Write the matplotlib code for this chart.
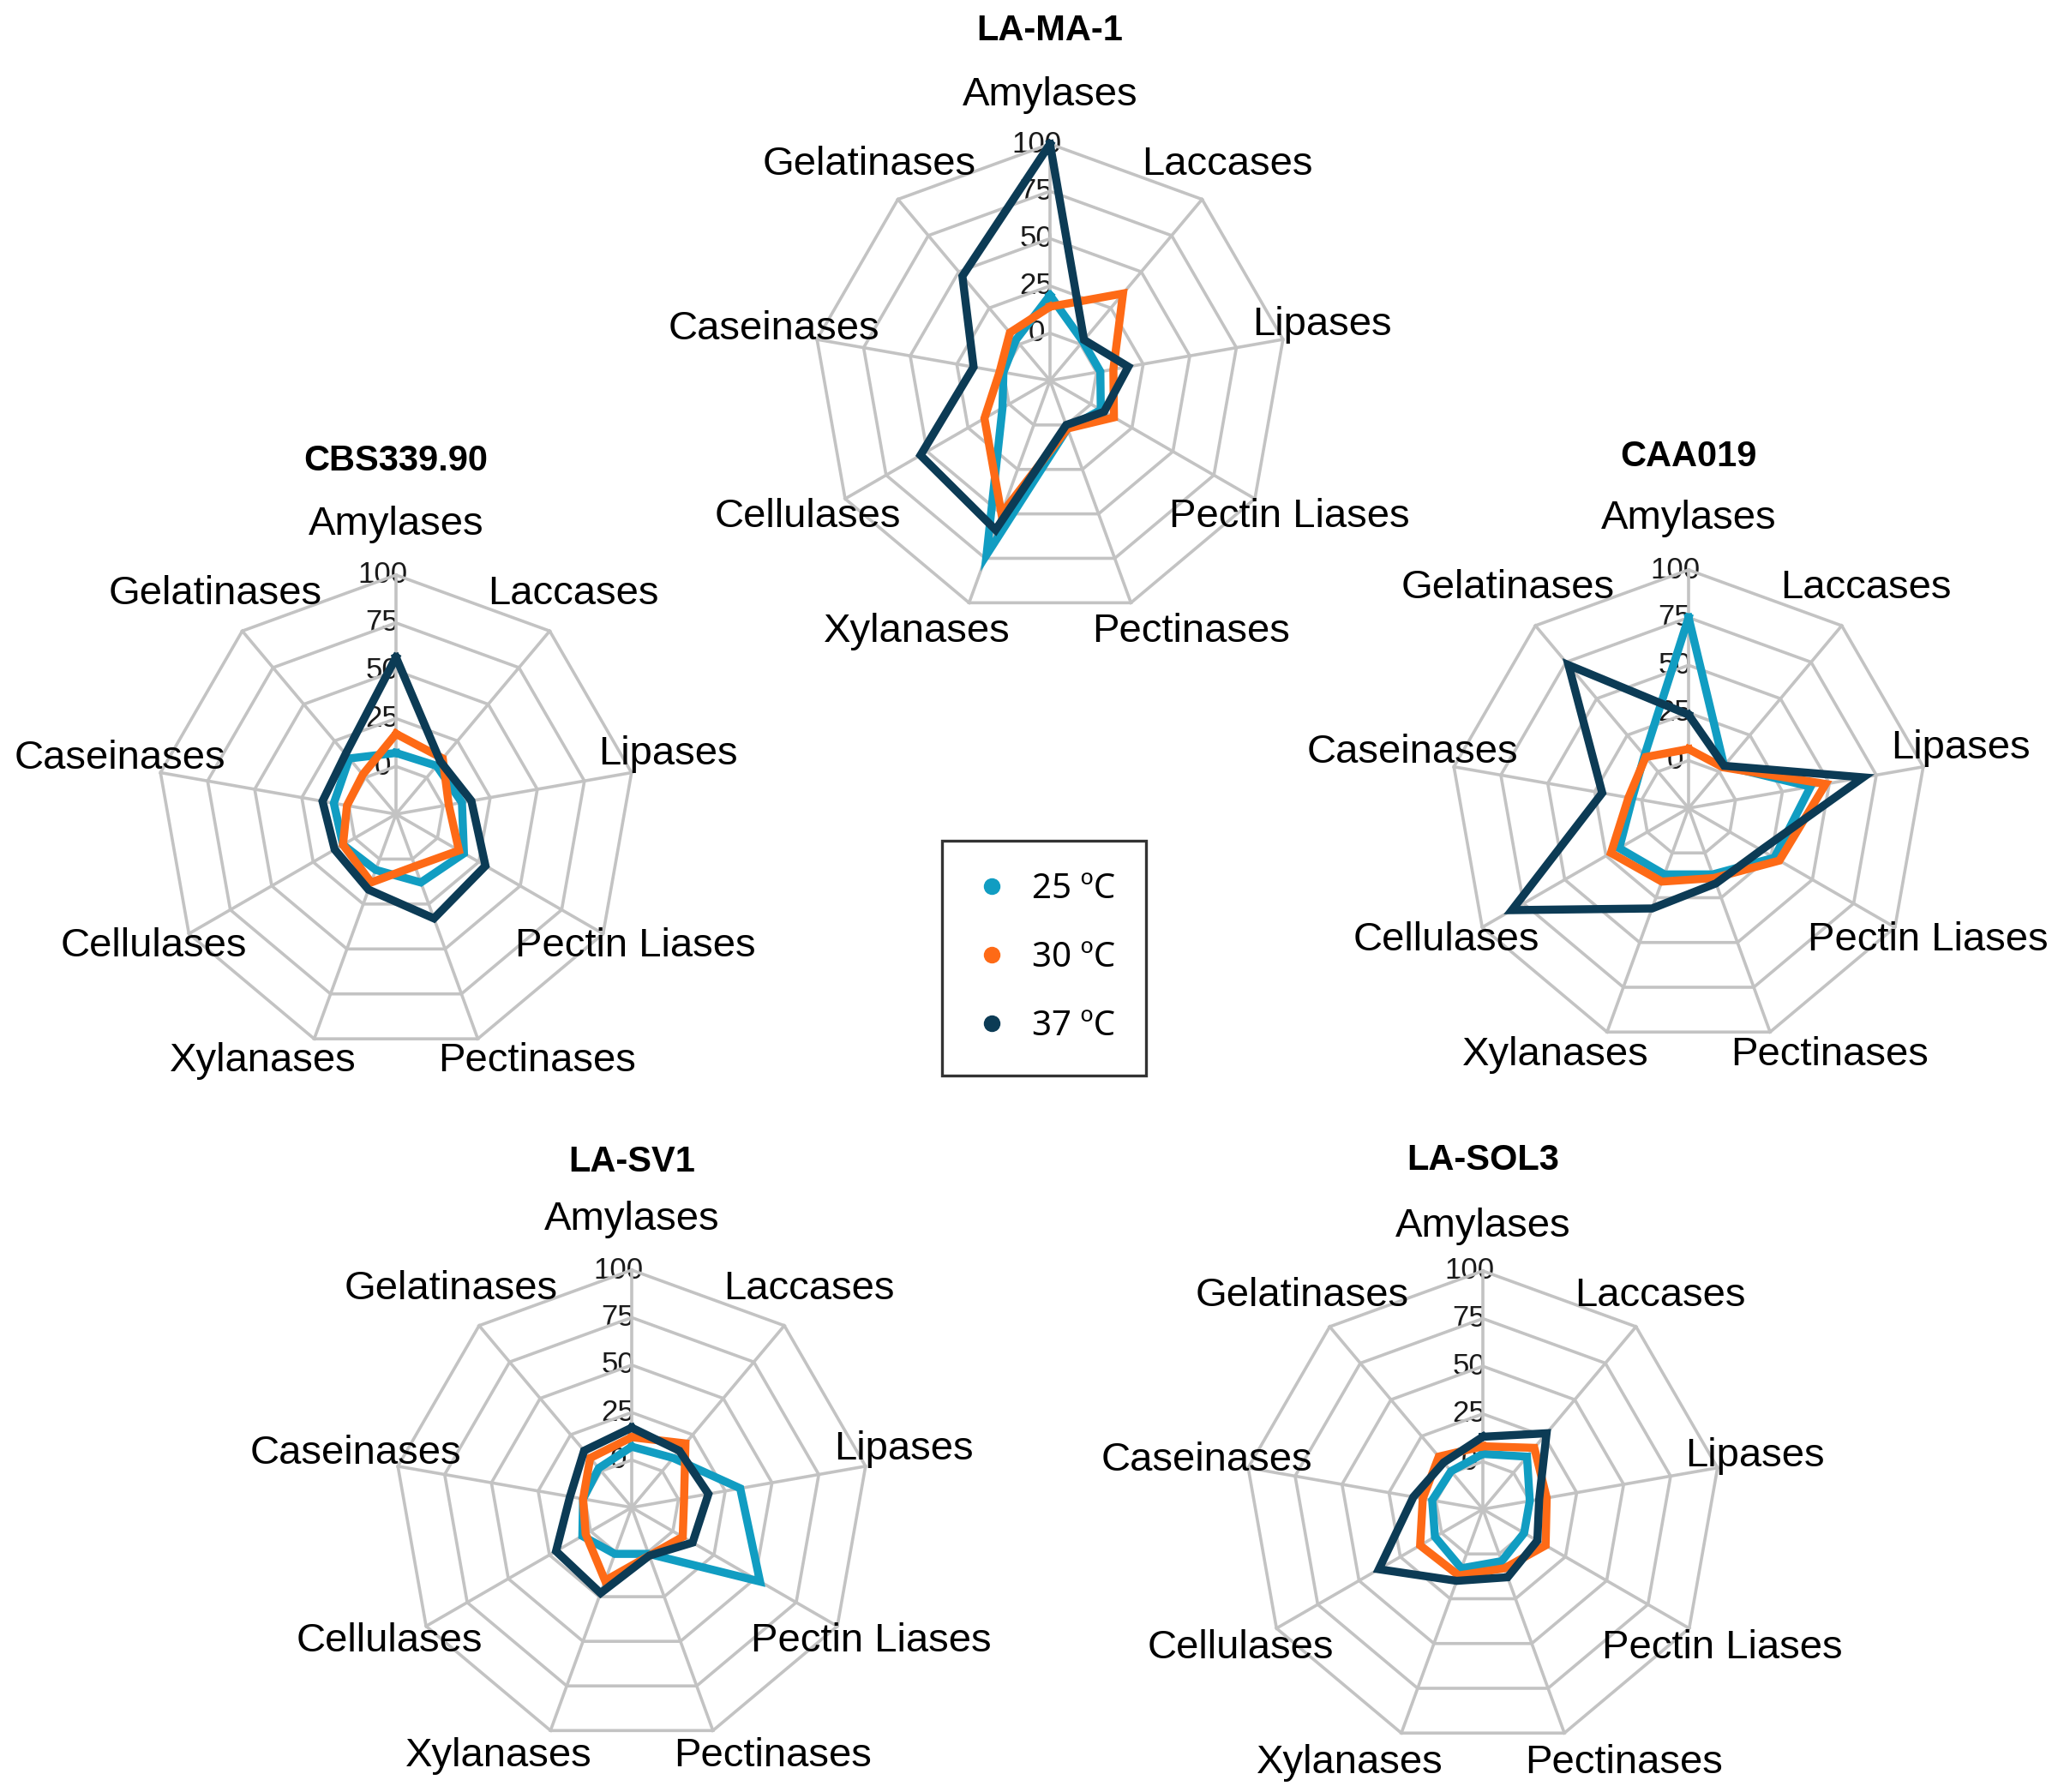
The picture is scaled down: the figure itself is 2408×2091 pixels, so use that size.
import numpy as np
import matplotlib
matplotlib.use("Agg")
import matplotlib.pyplot as plt
from matplotlib.lines import Line2D
from matplotlib.transforms import offset_copy

plt.rcParams['font.family'] = ['Liberation Sans', 'DejaVu Sans']

# ---------------- data ----------------
categories = ['Amylases', 'Laccases', 'Lipases', 'Pectin Liases', 'Pectinases',
              'Xylanases', 'Cellulases', 'Caseinases', 'Gelatinases']
series_labels = ['25 ºC', '30 ºC', '37 ºC']
ring_levels = [0, 25, 50, 75, 100]

la_ma_1_25 = [20, 2, 2, 6, 2, 73, 4, 0, 3]
la_ma_1_30 = [14, 35, 9, 14, 2, 50, 15, 2, 8]
la_ma_1_37 = [100, 3, 17, 8, 0, 59, 54, 16, 47]

cbs_25 = [7, 8, 10, 16, 13, 6, 7, 8, 13]
cbs_30 = [17, 13, 3, 13, 4, 13, 7, 1, 2]
cbs_37 = [57, 11, 15, 29, 33, 17, 12, 14, 16]

caa_25 = [75, 4, 40, 27, 12, 12, 17, 5, 11]
caa_30 = [6, 3, 48, 30, 14, 16, 22, 7, 10]
caa_37 = [24, 4, 68, 19, 17, 31, 82, 21, 73]

sv1_25 = [7, 9, 33, 53, 1, 1, 5, 1, 2]
sv1_30 = [12, 19, 3, 6, 2, 16, 3, 1, 9]
sv1_37 = [17, 14, 16, 12, 2, 23, 21, 8, 14]

sol3_25 = [4, 11, 0, 0, 4, 8, 4, 2, 1]
sol3_30 = [8, 17, 9, 13, 8, 12, 13, 7, 11]
sol3_37 = [13, 27, 5, 8, 13, 15, 38, 12, 7]

# ---------------- style / layout ----------------
colors = ['#119dc2', '#fe6a16', '#0c3b55']
grid_color = '#c3c3c3'
W, H = 2408, 2091

# (title, series, centre x, centre y, radius, title offset, label shift) px
charts = [
    ('LA-MA-1', [la_ma_1_25, la_ma_1_30, la_ma_1_37], 1225, 444, 276, 408, 5),
    ('CBS339.90', [cbs_25, cbs_30, cbs_37], 462, 950, 279, 412, 0),
    ('CAA019', [caa_25, caa_30, caa_37], 1970, 943, 278, 410, 0),
    ('LA-SV1', [sv1_25, sv1_30, sv1_37], 737, 1759, 277, 403, 2),
    ('LA-SOL3', [sol3_25, sol3_30, sol3_37], 1730, 1761, 278, 407, 8),
]
# category label centres relative to the chart centre (pixels, y downwards)
label_offsets = [(0, -338), (207, -257), (317, -70), (279, 154), (165, 288),
                 (-155, 288), (-283, 154), (-322, -65), (-211, -257)]

fig = plt.figure(figsize=(W / 100, H / 100), dpi=100)
fig.patch.set_facecolor('white')

n = len(categories)
angles = np.arange(n) * 2 * np.pi / n
closed = np.append(angles, angles[0])
rmin, rmax = -25, 100

for title, series, cx, cy, R, tdy, lshift in charts:
    ax = fig.add_axes([(cx - R) / W, 1 - (cy + R) / H, 2 * R / W, 2 * R / H],
                      projection='polar')
    ax.set_theta_zero_location('N')
    ax.set_theta_direction(-1)
    ax.set_ylim(rmin, rmax)
    ax.set_xticks([])
    ax.set_yticks([])
    ax.grid(False)
    ax.spines['polar'].set_visible(False)
    ax.patch.set_visible(False)

    # polygonal grid
    for lv in ring_levels:
        ax.plot(closed, [lv] * len(closed), color=grid_color, lw=2.6,
                zorder=2, clip_on=False)
    for a in angles:
        ax.plot([a, a], [rmin, rmax], color=grid_color, lw=2.6, zorder=2,
                clip_on=False)

    # radial tick labels
    tr = offset_copy(ax.transData, fig=fig, x=-16, y=0, units='dots')
    for lv in ring_levels:
        ax.text(0, lv, str(lv), transform=tr, ha='center', va='center',
                fontsize=25, color='#1a1a1a', zorder=1)

    # category labels
    for (dx, dy), name in zip(label_offsets, categories):
        t = offset_copy(ax.transAxes, fig=fig, x=dx, y=-(dy + lshift),
                        units='dots')
        ax.text(0.5, 0.5, name, transform=t, ha='center', va='center',
                fontsize=34, color='black')

    # title
    t = offset_copy(ax.transAxes, fig=fig, x=0, y=tdy, units='dots')
    ax.text(0.5, 0.5, title, transform=t, ha='center', va='center',
            fontsize=30, fontweight='bold', color='black')

    # data
    for i, (vals, c) in enumerate(zip(series, colors)):
        ax.plot(closed, list(vals) + [vals[0]], color=c, lw=6.8,
                solid_joinstyle='miter', zorder=3 + i, clip_on=False)

handles = [Line2D([], [], ls='none', marker='o', ms=13, color=c) for c in colors]
leg = fig.legend(handles, series_labels, loc='center',
                 bbox_to_anchor=(1218 / W, 1 - 1118 / H),
                 frameon=True, fancybox=False, edgecolor='black',
                 prop={'family': ['Noto Sans', 'DejaVu Sans'], 'size': 29},
                 labelspacing=1.0, handlelength=1.1, handletextpad=0.6,
                 borderpad=0.9, borderaxespad=0)
leg.get_frame().set_linewidth(2.4)

fig.savefig('out.png', dpi=100, facecolor='white')
